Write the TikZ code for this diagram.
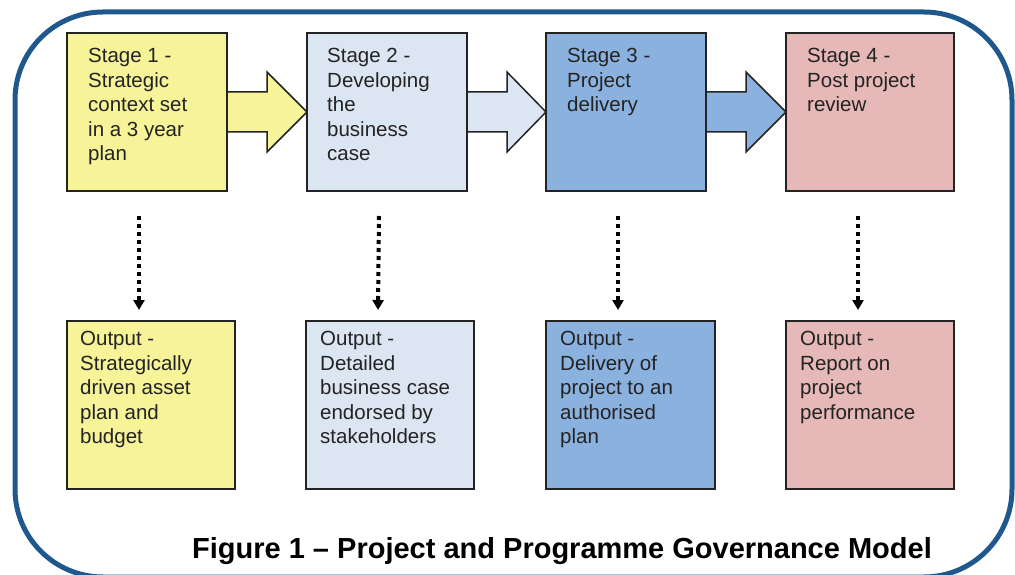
\documentclass[tikz,border=0pt]{standalone}
\usepackage{fontspec}
\setmainfont{Liberation Sans}
\usepackage{xcolor}
\usetikzlibrary{arrows.meta,backgrounds}

\definecolor{frameblue}{RGB}{31,88,140}
\definecolor{stageA}{RGB}{247,243,153}
\definecolor{stageB}{RGB}{220,230,242}
\definecolor{stageC}{RGB}{139,178,223}
\definecolor{stageD}{RGB}{230,184,183}
\definecolor{inkgray}{RGB}{35,35,35}

\newcommand{\boxfont}{\fontsize{20.5pt}{24.5pt}\selectfont}

\tikzset{
  stagebox/.style={draw=inkgray, line width=1.8pt, outer sep=0pt, inner sep=0pt,
    minimum width=160pt, minimum height=158pt, anchor=north west},
  outbox/.style={draw=inkgray, line width=1.8pt, outer sep=0pt, inner sep=0pt,
    minimum width=168pt, minimum height=168pt, anchor=north west},
  boxtext/.style={anchor=north west, inner sep=0pt, align=left,
    text=inkgray, font=\boxfont},
  blockarrow/.style={draw=inkgray, line width=1.5pt, line join=miter},
  dotarrow/.style={line width=4pt, dash pattern=on 4pt off 4pt,
    -{Triangle[width=11pt,length=10pt]}, shorten >=0pt}
}

\begin{document}
\begin{tikzpicture}[x=1pt,y=1pt]
\useasboundingbox (0,0) rectangle (1015,574);

% stages
\node[stagebox, fill=stageA] (s1) at (67,541) {};
\node[stagebox, fill=stageB] (s2) at (307,541) {};
\node[stagebox, fill=stageC] (s3) at (546,541) {};
\node[stagebox, fill=stageD, minimum width=168pt] (s4) at (786,541) {};

\node[boxtext] (s1txt) at ([shift={(21pt,-15pt)}]s1.north west) {Stage 1 -\\Strategic\\context set\\in a 3 year\\plan};
\node[boxtext] (s2txt) at ([shift={(20pt,-15pt)}]s2.north west) {Stage 2 -\\Developing\\the\\business\\case};
\node[boxtext] (s3txt) at ([shift={(21pt,-15pt)}]s3.north west) {Stage 3 -\\Project\\delivery};
\node[boxtext] (s4txt) at ([shift={(21pt,-15pt)}]s4.north west) {Stage 4 -\\Post project\\review};

% outputs
\node[outbox, fill=stageA] (o1) at (67,253) {};
\node[outbox, fill=stageB] (o2) at (306,253) {};
\node[outbox, fill=stageC, minimum width=169pt] (o3) at (546,253) {};
\node[outbox, fill=stageD] (o4) at (786,253) {};

\node[boxtext] (o1txt) at ([shift={(13pt,-10pt)}]o1.north west) {Output -\\Strategically\\driven asset\\plan and\\budget};
\node[boxtext] (o2txt) at ([shift={(14pt,-10pt)}]o2.north west) {Output -\\Detailed\\business case\\endorsed by\\stakeholders};
\node[boxtext] (o3txt) at ([shift={(14pt,-10pt)}]o3.north west) {Output -\\Delivery of\\project to an\\authorised\\plan};
\node[boxtext] (o4txt) at ([shift={(14pt,-10pt)}]o4.north west) {Output -\\Report on\\project\\performance};

% dotted links
\foreach \a/\b in {s1/o1,s2/o2,s3/o3,s4/o4}
  \draw[dotarrow] ([shift={(72pt,-25pt)}]\a.south west) -- ([shift={(72pt,11pt)}]\b.north west);

\node[font=\fontsize{29pt}{32pt}\selectfont\bfseries, anchor=base, inner sep=0pt] (title)
  at (562,16) {Figure 1 -- Project and Programme Governance Model};

\begin{pgfonlayer}{background}
% frame
\draw[frameblue, line width=5pt, rounded corners=88pt] (15,562) rectangle (1012,-3);
% block arrows
\draw[blockarrow, fill=stageA] ([yshift=20pt]s1.east) -- ++(40pt,0) -- ++(0,20pt) -- (s2.west)
  -- ([shift={(40pt,-40pt)}]s1.east) -- ++(0,20pt) -- ([yshift=-20pt]s1.east);
\draw[blockarrow, fill=stageB] ([yshift=20pt]s2.east) -- ++(40pt,0) -- ++(0,20pt) -- (s3.west)
  -- ([shift={(40pt,-40pt)}]s2.east) -- ++(0,20pt) -- ([yshift=-20pt]s2.east);
\draw[blockarrow, fill=stageC] ([yshift=20pt]s3.east) -- ++(40pt,0) -- ++(0,20pt) -- (s4.west)
  -- ([shift={(40pt,-40pt)}]s3.east) -- ++(0,20pt) -- ([yshift=-20pt]s3.east);
\end{pgfonlayer}
\end{tikzpicture}
\end{document}
